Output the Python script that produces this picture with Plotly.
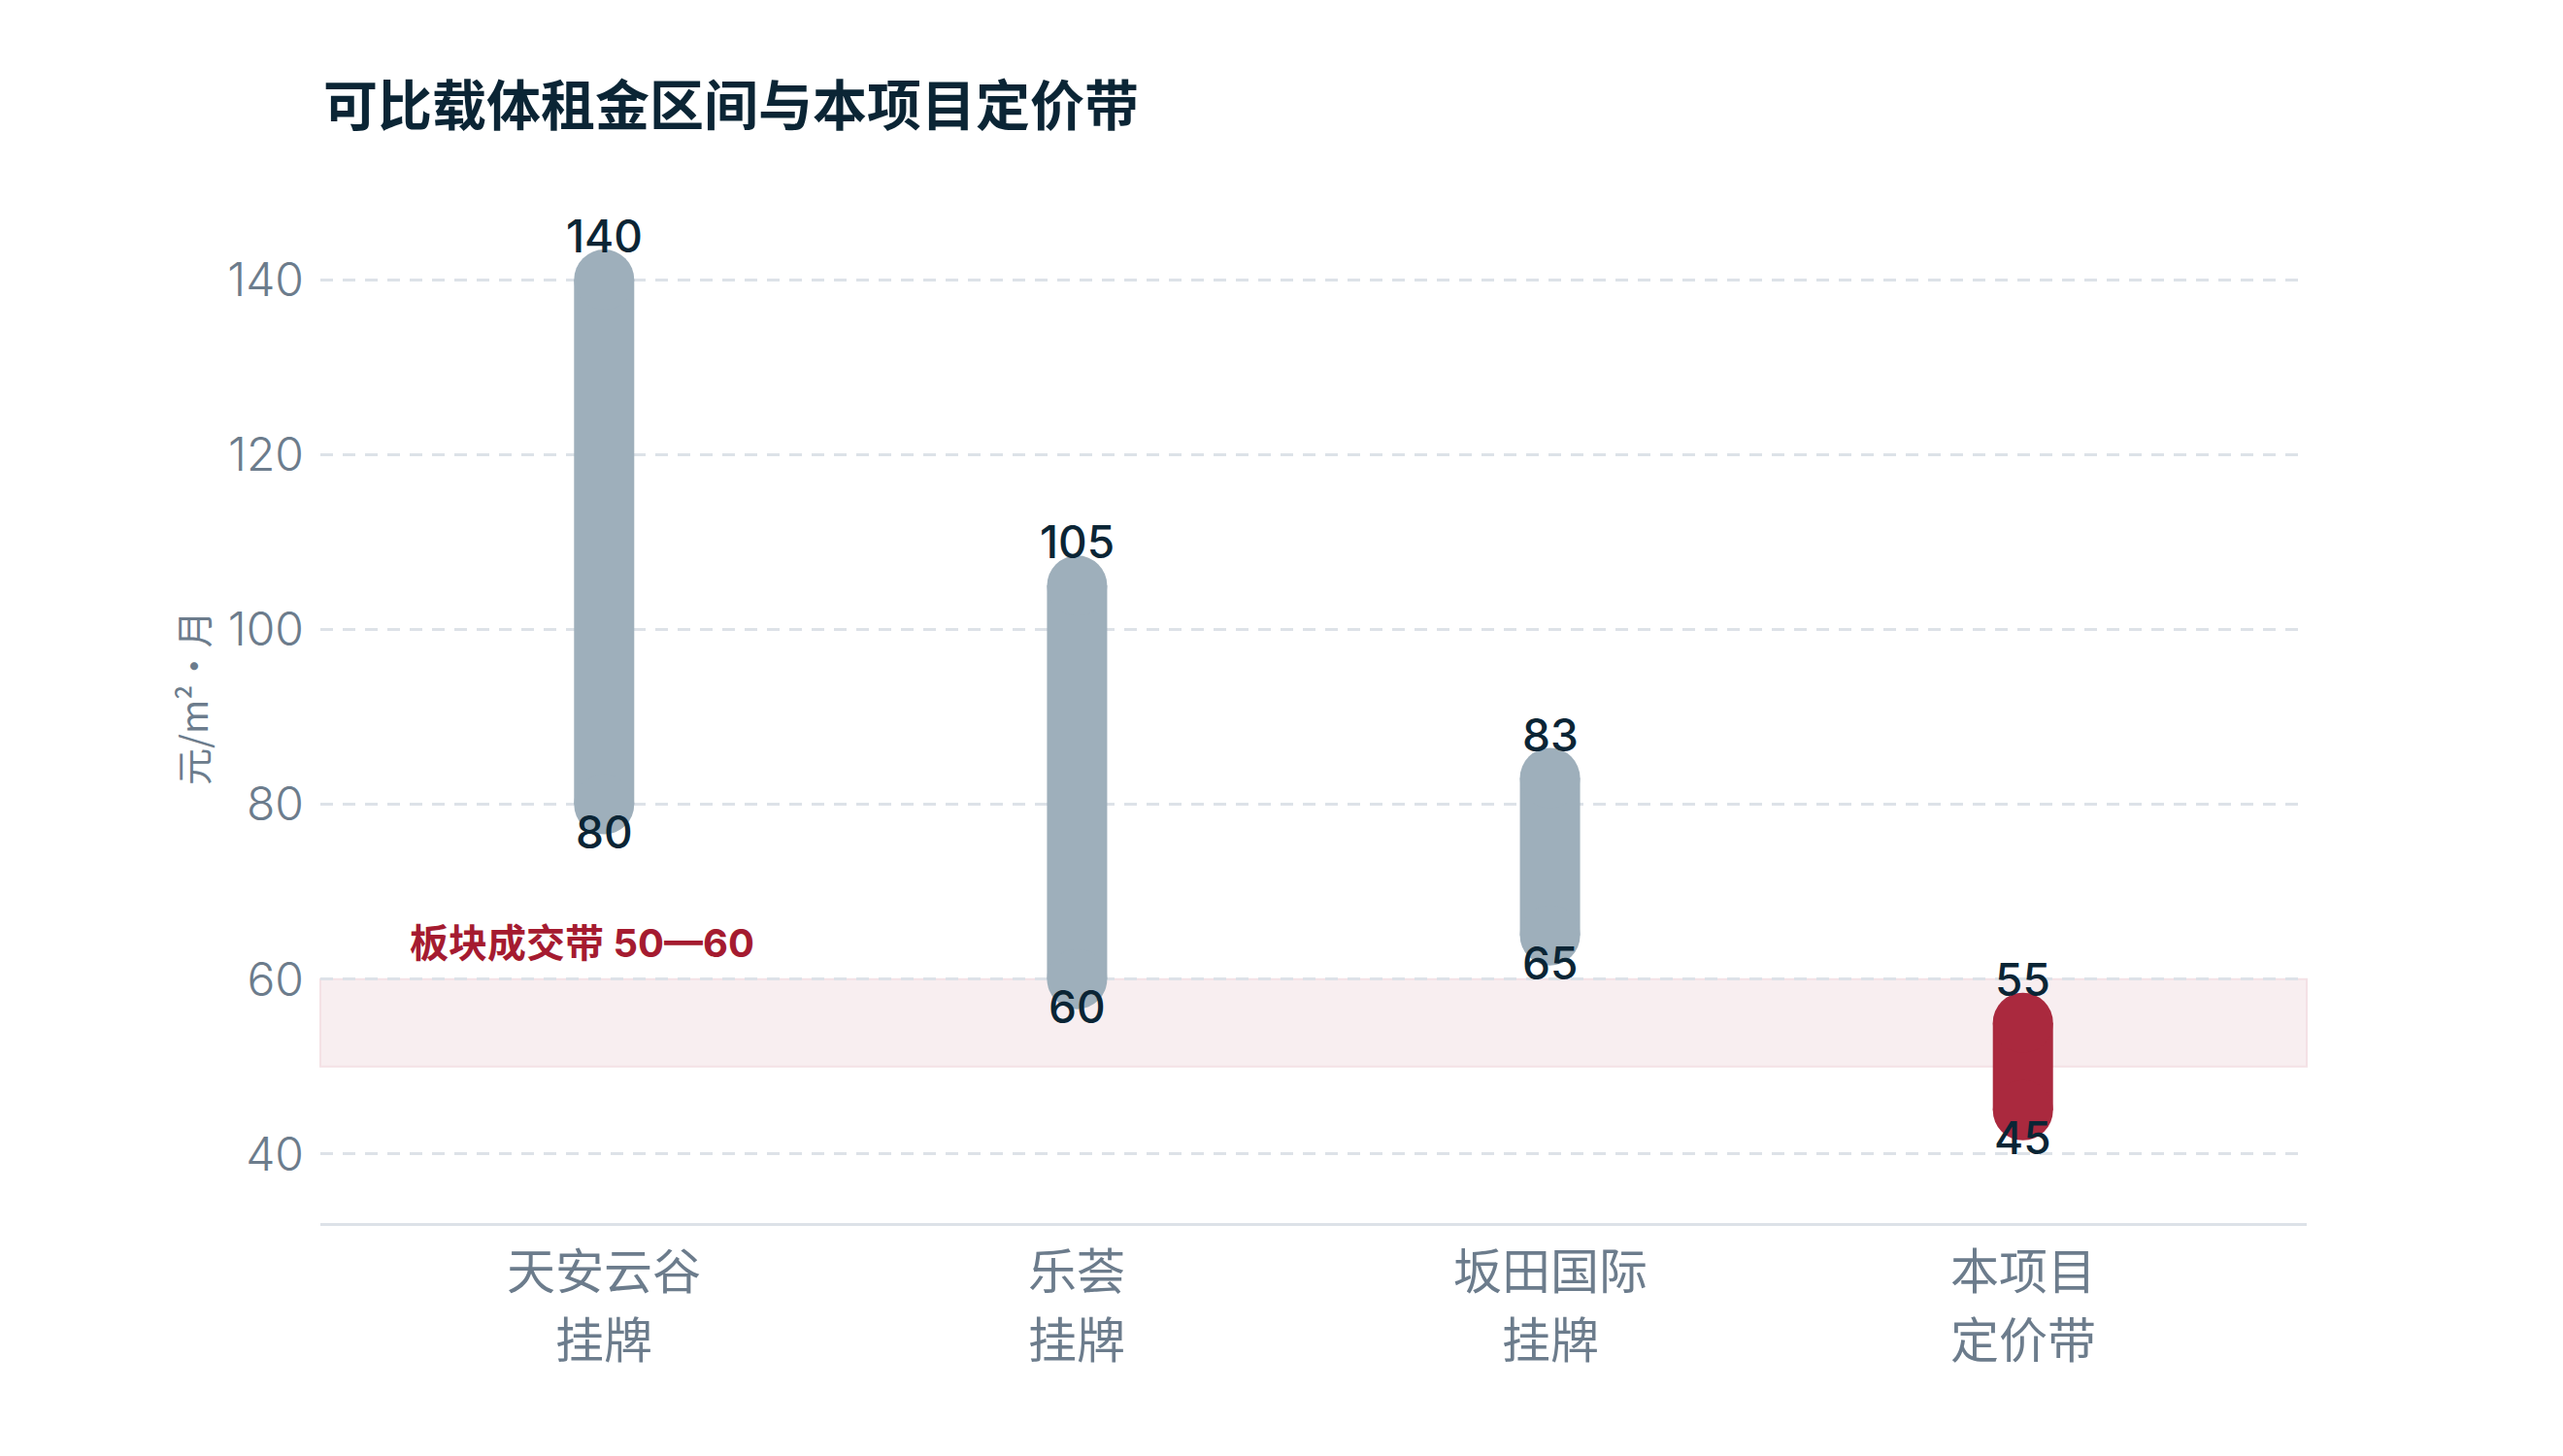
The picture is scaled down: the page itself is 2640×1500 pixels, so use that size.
import plotly.graph_objects as go

# ---- data ----
categories = ["天安云谷", "乐荟", "坂田国际", "本项目"]
category_sublabels = ["挂牌", "挂牌", "挂牌", "定价带"]
low_values = [80, 60, 65, 45]
high_values = [140, 105, 83, 55]
is_project = [False, False, False, True]
band_low = 50
band_high = 60
band_label = "板块成交带 50—60"
y_ticks = [40, 60, 80, 100, 120, 140]
title_text = "可比载体租金区间与本项目定价带"
y_title = "元/m²·月"

# ---- style ----
CJK = "Noto Sans CJK SC"
FONT = "Inter, Noto Sans CJK SC"
GRAY_BAR = "#9EAFBB"
RED_BAR = "#AA293E"
LABEL_DARK = "#0B2535"
TICK_GRAY = "#6C7C8C"
GRID = "#DDE2E8"
BAND_FILL = "#F8EEF0"
BAND_LINE = "#F4E1E5"
BAND_TEXT = "#A51B30"
BAR_W = 62

W, H = 2640, 1500
ML, MR, MT, MB = 330, 264, 198, 240

fig = go.Figure()

for cat, sub, lo, hi, proj in zip(categories, category_sublabels, low_values,
                                  high_values, is_project):
    color = RED_BAR if proj else GRAY_BAR
    fig.add_trace(go.Scatter(
        x=[cat, cat], y=[lo, hi], mode="lines+markers",
        line=dict(color=color, width=BAR_W),
        marker=dict(color=color, size=BAR_W, line=dict(width=0)),
        showlegend=False, hoverinfo="skip", cliponaxis=False,
    ))
    fig.add_annotation(x=cat, y=hi, text=str(hi), showarrow=False,
                       yshift=45, yanchor="middle",
                       font=dict(family=FONT, size=46, color=LABEL_DARK, weight=500))
    fig.add_annotation(x=cat, y=lo, text=str(lo), showarrow=False,
                       yshift=-28, yanchor="middle",
                       font=dict(family=FONT, size=46, color=LABEL_DARK, weight=500))
    # two-line category label below the axis
    fig.add_annotation(x=cat, yref="paper", y=0, text=cat, showarrow=False,
                       yshift=-46, yanchor="middle",
                       font=dict(family=CJK, size=50, color=TICK_GRAY))
    fig.add_annotation(x=cat, yref="paper", y=0, text=sub, showarrow=False,
                       yshift=-117, yanchor="middle",
                       font=dict(family=CJK, size=50, color=TICK_GRAY))

# band
fig.add_shape(type="rect", xref="paper", yref="y", x0=0, x1=1,
              y0=band_low, y1=band_high, fillcolor=BAND_FILL,
              line=dict(color=BAND_LINE, width=2), layer="below")
fig.add_annotation(xref="paper", yref="y", x=0, y=band_high, xshift=90, yshift=37,
                   xanchor="left", yanchor="middle", text=band_label, showarrow=False,
                   font=dict(family=FONT, size=40, color=BAND_TEXT, weight=700))

# y axis title
fig.add_annotation(xref="paper", yref="paper", x=0, y=0.5, xshift=-133, yshift=10,
                   xanchor="center", yanchor="middle", textangle=-90,
                   text=y_title, showarrow=False,
                   font=dict(family=CJK, size=38, color=TICK_GRAY))

fig.update_layout(
    width=W, height=H,
    margin=dict(l=ML, r=MR, t=MT, b=MB),
    paper_bgcolor="white", plot_bgcolor="white",
    font=dict(family=FONT, color=TICK_GRAY),
    title=dict(text=title_text, x=333 / W, xanchor="left", xref="container",
               y=1 - 109 / H, yanchor="middle", yref="container",
               font=dict(family=CJK, size=56, color=LABEL_DARK, weight=700)),
    xaxis=dict(type="category", categoryorder="array", categoryarray=categories,
               range=[-0.6, 3.6], showgrid=False, showline=True,
               linecolor=GRID, linewidth=3, ticks="", zeroline=False,
               showticklabels=False),
    yaxis=dict(range=[32.1, 150], tickvals=y_ticks, showgrid=True,
               gridcolor=GRID, gridwidth=3, griddash="13px,10px",
               showline=False, zeroline=False, ticks="",
               tickfont=dict(family=FONT, size=48, color=TICK_GRAY, weight=300),
               ticklabelstandoff=16),
)

fig.write_html("out.html", config={"displayModeBar": False},
               post_script="document.body.style.margin='0';")
